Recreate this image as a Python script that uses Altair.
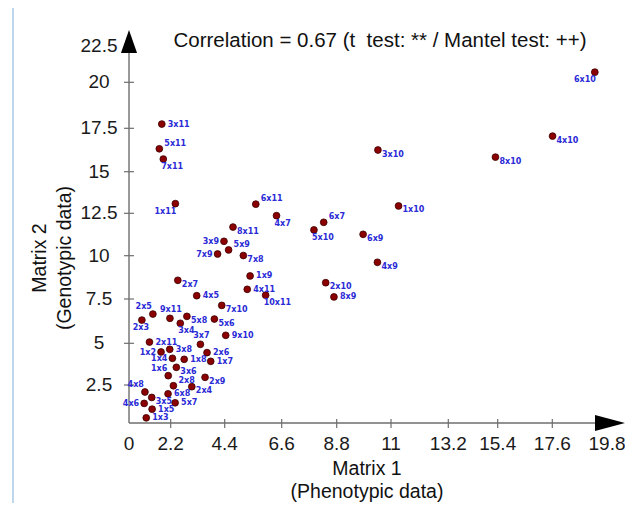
import altair as alt
import pandas as pd

# ---------------- data ----------------
pairs = ["1x2", "1x3", "1x4", "1x5", "1x6", "1x7", "1x8", "1x9", "1x10", "1x11",
         "2x3", "2x4", "2x5", "2x6", "2x7", "2x8", "2x9", "2x10", "2x11",
         "3x4", "3x5", "3x6", "3x7", "3x8", "3x9", "3x10", "3x11",
         "4x5", "4x6", "4x7", "4x8", "4x9", "4x10", "4x11",
         "5x6", "5x7", "5x8", "5x9", "5x10", "5x11",
         "6x7", "6x8", "6x9", "6x10", "6x11",
         "7x8", "7x9", "7x10", "7x11",
         "8x9", "8x10", "8x11",
         "9x10", "9x11",
         "10x11"]
matrix1 = [1.69, 0.91, 2.27, 1.22, 2.07, 3.83, 2.75, 5.38, 11.29, 2.39,
           0.68, 3.06, 1.26, 3.68, 2.49, 2.31, 3.60, 8.36, 1.08,
           2.59, 1.20, 2.43, 3.41, 2.15, 4.37, 10.47, 1.73,
           3.26, 0.80, 6.40, 0.84, 10.45, 17.61, 5.27,
           3.98, 2.38, 2.86, 4.55, 7.89, 1.60,
           8.28, 2.06, 9.87, 19.31, 5.60,
           5.12, 4.11, 4.28, 1.81,
           8.69, 15.30, 4.72,
           4.44, 2.16,
           5.98]
matrix2 = [4.48, 0.34, 4.10, 0.91, 3.06, 3.92, 4.04, 8.83, 12.94, 13.08,
           6.31, 2.39, 6.65, 4.44, 8.58, 2.45, 2.96, 8.44, 5.07,
           6.13, 1.68, 3.56, 4.94, 4.64, 10.85, 16.25, 17.73,
           7.69, 1.29, 12.36, 2.04, 9.62, 17.05, 8.06,
           6.37, 1.33, 6.52, 10.34, 11.52, 16.32,
           11.97, 1.92, 11.26, 20.70, 13.05,
           10.01, 10.10, 7.14, 15.73,
           7.62, 15.84, 11.69,
           5.45, 6.41,
           7.72]

x_tick_values = [0, 2.2, 4.4, 6.6, 8.8, 11, 13.2, 15.4, 17.6, 19.8]
y_tick_values = [2.5, 5, 7.5, 10, 12.5, 15, 17.5, 20, 22.5]

title_text = "Correlation = 0.67 (t\u00a0 test: ** / Mantel test: ++)"
x_title = "Matrix 1\n(Phenotypic data)"
y_title = "Matrix 2\n(Genotypic data)"

# which side of its point each pair label sits on
label_side = {
    "right": ["1x9", "4x11", "4x5", "9x10", "2x11", "3x8", "2x6", "6x8", "5x7",
              "1x5", "1x3", "3x11", "8x9", "1x8", "1x7"],
    "lowright": ["2x7", "7x10", "5x8", "5x6", "3x6", "2x9", "2x4", "3x5", "8x11",
                 "7x8", "6x9", "4x9", "2x10", "1x10", "4x10", "8x10", "3x10"],
    "upright": ["5x11", "6x11", "5x9", "6x7", "2x8"],
    "left": ["1x2", "4x6", "3x9", "7x9", "1x4"],
    "upleft": ["2x5", "1x6", "4x8"],
    "above": ["9x11", "3x7"],
    "below": ["3x4", "7x11", "4x7", "5x10", "10x11"],
    "belowc": ["2x3"],
    "lowleft": ["1x11", "6x10"],
}

# ---------------- build ----------------
side_of = {p: s for s, lst in label_side.items() for p in lst}
df = pd.DataFrame({"pair": pairs, "matrix1": matrix1, "matrix2": matrix2})
df["side"] = df["pair"].map(side_of)

W, H = 496, 393
# the original axes are drawn with slightly uneven tick spacing: piecewise-linear scales
xscale = alt.Scale(
    domain=x_tick_values + [20.52],
    range=[0, 41.7, 95.7, 152.7, 207.7, 262, 319.3, 368.7, 423.3, 478, W],
    nice=False, zero=False,
)
yscale = alt.Scale(
    domain=[0] + y_tick_values + [23.4],
    range=[H, 355, 313.3, 269, 225.7, 183.3, 141.7, 98.3, 52.3, 16, 0],
    nice=False, zero=False,
)
FONT = "Liberation Sans"
AXCOL = "#6e6e6e"
TXT = "#1a1a1a"

base = alt.Chart(df)

points = base.mark_circle(size=46, color="#8b0000", stroke="#3a0000",
                          strokeWidth=0.8, opacity=1).encode(
    x=alt.X("matrix1:Q", scale=xscale, axis=None),
    y=alt.Y("matrix2:Q", scale=yscale, axis=None),
)

placement = {
    "right": dict(align="left", dx=6, dy=0.5),
    "lowright": dict(align="left", dx=4, dy=4.5),
    "upright": dict(align="left", dx=5, dy=-5),
    "left": dict(align="right", dx=-5, dy=1),
    "upleft": dict(align="right", dx=-1, dy=-7),
    "above": dict(align="center", dx=1, dy=-8),
    "below": dict(align="left", dx=-2, dy=8),
    "belowc": dict(align="center", dx=-1, dy=8),
    "lowleft": dict(align="right", dx=1, dy=8),
}
label_layers = []
for side, opts in placement.items():
    label_layers.append(
        base.transform_filter(alt.datum.side == side).mark_text(
            font="DejaVu Sans", fontWeight="bold", fontSize=8,
            color="#2a2ad6", baseline="middle", **opts
        ).encode(
            x=alt.X("matrix1:Q", scale=xscale, axis=None),
            y=alt.Y("matrix2:Q", scale=yscale, axis=None),
            text="pair:N",
        )
    )

one = alt.Data(values=[{"k": 1}])

# axis lines
x_line = alt.Chart(one).mark_rule(color=AXCOL, strokeWidth=1.4).encode(
    x=alt.value(0), x2=alt.value(W - 20), y=alt.value(H)
)
y_line = alt.Chart(one).mark_rule(color=AXCOL, strokeWidth=1.4).encode(
    x=alt.value(0), y=alt.value(15), y2=alt.value(H)
)

xt = pd.DataFrame({"xv": x_tick_values})
yt = pd.DataFrame({"yv": y_tick_values})

x_ticks = alt.Chart(xt).transform_filter(
    (alt.datum.xv > 0) & (alt.datum.xv < 19)
).mark_tick(orient="vertical", size=9, thickness=1.2, color=AXCOL, opacity=1).encode(
    x=alt.X("xv:Q", scale=xscale, axis=None),
    y=alt.value(H + 0.5),
)
y_ticks = alt.Chart(yt).transform_filter(alt.datum.yv < 22).mark_rule(
    color=AXCOL, strokeWidth=1.2).encode(
    y=alt.Y("yv:Q", scale=yscale, axis=None),
    x=alt.value(-5), x2=alt.value(5),
)

x_labels = alt.Chart(xt).mark_text(
    font=FONT, fontSize=19, color=TXT, align="center", baseline="alphabetic"
).encode(
    x=alt.X("xv:Q", scale=xscale, axis=None),
    y=alt.value(H + 27),
    text=alt.Text("xv:Q", format="~g"),
)
y_labels = alt.Chart(yt).mark_text(
    font=FONT, fontSize=19, color=TXT, align="center", baseline="middle"
).encode(
    y=alt.Y("yv:Q", scale=yscale, axis=None),
    x=alt.value(-30),
    text=alt.Text("yv:Q", format="~g"),
)

x_arrow = alt.Chart(one).mark_point(
    shape="M-1,-0.53L1,0L-1,0.53Z", filled=True, color="black", opacity=1,
    size=900, strokeWidth=0,
).encode(x=alt.value(W - 15), y=alt.value(H))
y_arrow = alt.Chart(one).mark_point(
    shape="M-0.7,1L0,-1L0.7,1Z", filled=True, color="black", opacity=1,
    size=529, strokeWidth=0,
).encode(x=alt.value(0), y=alt.value(11.5))

title = alt.Chart(one).mark_text(
    font=FONT, fontSize=20.5, color="#111111", align="center", baseline="alphabetic"
).encode(x=alt.value(251), y=alt.value(17), text=alt.value(title_text))

xtitle = alt.Chart(one).mark_text(
    font=FONT, fontSize=19.5, color="#111111", align="center", baseline="alphabetic",
    lineBreak="\n", lineHeight=23,
).encode(x=alt.value(238), y=alt.value(445), text=alt.value(x_title))

ytitle = alt.Chart(one).mark_text(
    font=FONT, fontSize=19.5, color="#111111", align="center", baseline="alphabetic",
    lineBreak="\n", lineHeight=25, angle=270,
).encode(x=alt.value(-83), y=alt.value(228), text=alt.value(y_title))

border = alt.Chart(one).mark_rule(color="#a9c9e6", strokeWidth=1.5).encode(
    x=alt.value(-116), y=alt.value(-30), y2=alt.value(485)
)

chart = alt.layer(
    border, x_line, y_line, x_ticks, y_ticks, x_labels, y_labels,
    points, *label_layers, x_arrow, y_arrow,
    title, xtitle, ytitle,
).properties(
    width=W, height=H,
    autosize=alt.AutoSizeParams(type="none"),
    padding={"left": 121, "top": 22, "right": 0, "bottom": 80},
    background="white",
).configure_view(strokeWidth=0)

chart.save("out.html", embed_options={"renderer": "svg", "actions": False})
